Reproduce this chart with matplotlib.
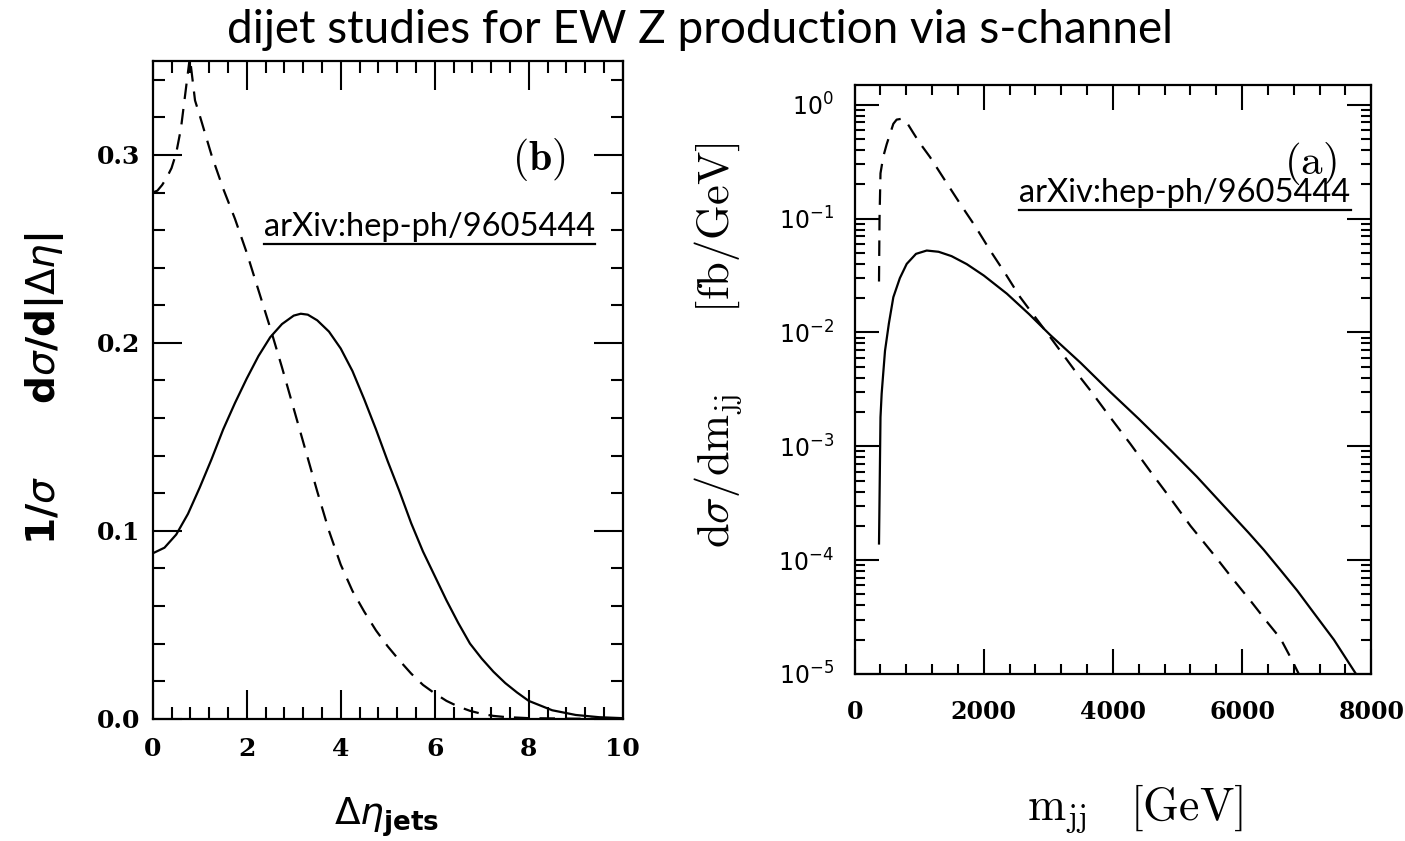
import numpy as np
import matplotlib
matplotlib.use("Agg")
import matplotlib.pyplot as plt
from matplotlib.lines import Line2D
from matplotlib.ticker import MultipleLocator, LogLocator, NullFormatter

plt.rcParams['mathtext.fontset'] = 'cm'

# left panel: normalised Delta eta distribution
eta_solid = [0.0, 0.25, 0.5, 0.75, 1.0, 1.25, 1.5, 1.75, 2.0, 2.25, 2.5, 2.75, 3.0, 3.15,
             3.3, 3.5, 3.75, 4.0, 4.25, 4.5, 4.75, 5.0, 5.25, 5.5, 5.75, 6.0, 6.25, 6.5,
             6.75, 7.0, 7.25, 7.5, 7.75, 8.0, 8.5, 9.0, 9.5, 10.0]
val_solid = [0.088, 0.091, 0.098, 0.109, 0.123, 0.138, 0.154, 0.168, 0.181, 0.193, 0.203,
             0.210, 0.2145, 0.2155, 0.215, 0.212, 0.206, 0.197, 0.185, 0.170, 0.154, 0.137,
             0.121, 0.104, 0.089, 0.076, 0.063, 0.051, 0.040, 0.032, 0.025, 0.019, 0.014,
             0.0095, 0.0045, 0.0020, 0.0008, 0.0003]
eta_dash = [0.0, 0.1, 0.2, 0.3, 0.4, 0.5, 0.6, 0.7, 0.79, 0.9, 1.0, 1.25, 1.5, 1.75, 2.0,
            2.25, 2.5, 2.75, 3.0, 3.25, 3.5, 3.75, 4.0, 4.25, 4.5, 4.75, 5.0, 5.25, 5.5,
            5.75, 6.0, 6.25, 6.5, 6.75, 7.0, 7.25, 7.5, 8.0, 9.0, 10.0]
val_dash = [0.280, 0.281, 0.284, 0.288, 0.293, 0.301, 0.314, 0.334, 0.352, 0.329, 0.321,
            0.300, 0.282, 0.266, 0.248, 0.228, 0.208, 0.187, 0.165, 0.143, 0.121, 0.100,
            0.082, 0.068, 0.057, 0.047, 0.0385, 0.031, 0.024, 0.018, 0.0135, 0.0095, 0.0065,
            0.0042, 0.0026, 0.0015, 0.0009, 0.0003, 0.0, 0.0]

# right panel: dijet invariant mass spectrum [fb/GeV]
mjj_solid = [377, 400, 418, 440, 470, 530, 599, 700, 806, 950, 1116, 1300, 1500, 1736, 2000,
             2357, 2700, 3028, 3500, 3958, 4400, 4888, 5300, 5715, 6100, 6336, 6600, 6853,
             7100, 7421, 7730, 7800]
xs_solid = [1.4e-4, 1.8e-3, 2.9e-3, 4.2e-3, 6.9e-3, 0.012, 0.0204, 0.030, 0.040, 0.049,
            0.0524, 0.0511, 0.0468, 0.0398, 0.0316, 0.0219, 0.0145, 0.0095, 0.0054, 0.0030,
            0.00174, 9.3e-4, 5.4e-4, 3.0e-4, 1.74e-4, 1.23e-4, 8.1e-5, 5.4e-5, 3.5e-5,
            2.0e-5, 1.07e-5, 9.3e-6]
mjj_dash = [377, 385, 400, 443, 496, 599, 650, 728, 800, 900, 1000, 1167, 1400, 1633, 1870,
            2098, 2330, 2563, 2800, 3028, 3184, 3400, 3649, 3950, 4269, 4580, 4888, 5200,
            5560, 5850, 6129, 6400, 6594, 6749, 6878, 6900]
xs_dash = [0.028, 0.10, 0.25, 0.35, 0.45, 0.68, 0.74, 0.753, 0.71, 0.575, 0.468, 0.347,
           0.216, 0.135, 0.085, 0.0525, 0.0331, 0.0204, 0.0135, 0.0091, 0.0069, 0.0047,
           0.0031, 0.00182, 0.00105, 6.0e-4, 3.5e-4, 2.0e-4, 1.12e-4, 6.9e-5, 4.4e-5,
           2.8e-5, 2.05e-5, 1.4e-5, 1.0e-5, 9e-6]

fig = plt.figure(figsize=(14.05, 8.41), dpi=100)
ax1 = fig.add_axes([0.1087, 0.1454, 0.3345, 0.7821])
ax2 = fig.add_axes([0.6083, 0.1986, 0.3677, 0.7007])

lw = 1.6
dash = (7, 4.5)

# ---- left panel
ax1.plot(eta_solid, val_solid, color='black', lw=lw)
ax1.plot(eta_dash, val_dash, color='black', lw=lw, dashes=dash)
ax1.set_xlim(0, 10)
ax1.set_ylim(0, 0.35)
ax1.xaxis.set_minor_locator(MultipleLocator(0.4))
ax1.yaxis.set_minor_locator(MultipleLocator(0.02))
ax1.set_yticks([0.0, 0.1, 0.2, 0.3])
ax1.set_yticklabels(['0.0', '0.1', '0.2', '0.3'])
ax1.set_xticks([0, 2, 4, 6, 8, 10])
ax1.set_xticklabels(['0', '2', '4', '6', '8', '10'])
ax1.tick_params(which='both', direction='in', top=True, right=True, width=1.5)
ax1.tick_params(which='major', length=21)
ax1.tick_params(which='minor', length=8.5)
ax1.tick_params(axis='x', which='major', pad=13)
ax1.tick_params(axis='y', which='major', pad=9)
for lab in ax1.get_xticklabels() + ax1.get_yticklabels():
    lab.set_fontfamily('DejaVu Serif')
    lab.set_fontweight('bold')
    lab.set_fontsize(18)
for s in ax1.spines.values():
    s.set_linewidth(1.6)

ax1.text(0.822, 0.85, r'$\mathbf{(b)}$', transform=ax1.transAxes, fontsize=30,
         ha='center', va='center')

# ---- right panel
ax2.semilogy(mjj_solid, xs_solid, color='black', lw=lw)
ax2.semilogy(mjj_dash, xs_dash, color='black', lw=lw, dashes=dash)
ax2.set_xlim(0, 8000)
ax2.set_ylim(1e-5, 1.5)
ax2.xaxis.set_minor_locator(MultipleLocator(400))
ax2.yaxis.set_major_locator(LogLocator(base=10, numticks=10))
ax2.yaxis.set_minor_locator(LogLocator(base=10, subs=np.arange(2, 10), numticks=20))
ax2.yaxis.set_minor_formatter(NullFormatter())
ax2.set_xticks([0, 2000, 4000, 6000, 8000])
ax2.set_xticklabels(['0', '2000', '4000', '6000', '8000'])
ax2.tick_params(which='both', direction='in', top=True, right=True, width=1.5)
ax2.tick_params(axis='x', which='major', length=18, pad=19)
ax2.tick_params(axis='x', which='minor', length=7)
ax2.tick_params(axis='y', which='major', length=17, pad=15, labelsize=17)
ax2.tick_params(axis='y', which='minor', length=7)
for lab in ax2.get_xticklabels():
    lab.set_fontfamily('DejaVu Serif')
    lab.set_fontweight('bold')
    lab.set_fontsize(17)
for s in ax2.spines.values():
    s.set_linewidth(1.6)

ax2.text(0.883, 0.866, r'$(\mathrm{a})$', transform=ax2.transAxes, fontsize=31,
         ha='center', va='center')

# ---- axis titles
fig.text(0.032, 0.538,
         r'$\mathbf{1/}\sigma\qquad\mathbf{d}\sigma\mathbf{/d|}\Delta\eta\mathbf{|}$',
         rotation=90, ha='center', va='center', fontsize=28, math_fontfamily='dejavusans')
fig.text(0.275, 0.028, r'$\Delta\eta_{\mathbf{jets}}$', ha='center', va='center',
         fontsize=27, math_fontfamily='dejavusans')
fig.text(0.511, 0.59, r'$\mathrm{d}\sigma/\mathrm{dm_{jj}}\qquad[\mathrm{fb/GeV}]$',
         rotation=90, ha='center', va='center', fontsize=32)
fig.text(0.808, 0.039, r'$\mathrm{m_{jj}}\ \ \ [\mathrm{GeV}]$', ha='center', va='center',
         fontsize=33)

fig.text(0.498, 0.949, 'dijet studies for EW Z production via s-channel', ha='center',
         va='baseline', fontsize=33, family='Lato')

# arXiv references, underlined
refs = [
    fig.text(0.3057, 0.7195, 'arXiv:hep-ph/9605444', ha='center', va='baseline',
             fontsize=23.5, family='Lato'),
    fig.text(0.8434, 0.7598, 'arXiv:hep-ph/9605444', ha='center', va='baseline',
             fontsize=23.5, family='Lato'),
]
fig.canvas.draw()
renderer = fig.canvas.get_renderer()
for t in refs:
    bb = t.get_window_extent(renderer).transformed(fig.transFigure.inverted())
    yline = bb.y0 - 2.0 / 841
    fig.add_artist(Line2D([bb.x0, bb.x1], [yline, yline], color='black', lw=1.6,
                          transform=fig.transFigure))

fig.savefig('out.png', dpi=100)
